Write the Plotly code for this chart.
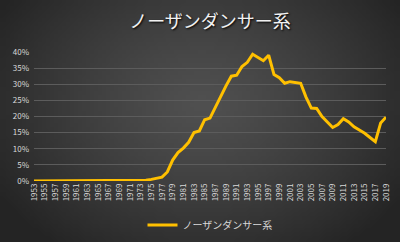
import base64, struct, zlib
import numpy as np
import plotly.graph_objects as go

years = list(range(1953, 2020))
share_pct = [0]*21 + [
    0.2, 0.5, 0.8, 1.2, 2.8, 6.5, 8.8, 10.2, 12.0, 15.0,   # 1974-1983
    15.5, 19.0, 19.5, 23.0, 26.5, 29.5, 32.5, 32.8, 35.5, 36.8,  # 1984-1993
    39.3, 38.3, 37.3, 39.0, 33.0, 32.0, 30.3, 30.8, 30.6, 30.3,  # 1994-2003
    26.0, 22.6, 22.5, 20.0, 18.3, 16.6, 17.5, 19.3, 18.3, 16.8,  # 2004-2013
    15.8, 14.8, 13.5, 12.2, 18.0, 19.8,                          # 2014-2019
]
series_name = "ノーザンダンサー系"
tick_years = list(range(1953, 2020, 2))
y_ticks = [0, 0.05, 0.10, 0.15, 0.20, 0.25, 0.30, 0.35, 0.40]

# radial gradient background as a small PNG
W, H = 100, 60
yy, xx = np.mgrid[0:H, 0:W]
d = np.sqrt(((xx - W*0.5)/(W*0.6))**2 + ((yy - H*0.42)/(H*0.75))**2)
d = np.clip(d, 0, 1)
g = (80 - 44*d**1.3).astype(np.uint8)
raw = b"".join(b"\x00" + bytes(np.stack([row, row, row], axis=1).flatten()) for row in g)
def chunk(t, data):
    c = t + data
    return struct.pack(">I", len(data)) + c + struct.pack(">I", zlib.crc32(c) & 0xffffffff)
png = b"\x89PNG\r\n\x1a\n" + chunk(b"IHDR", struct.pack(">IIBBBBB", W, H, 8, 2, 0, 0, 0)) \
      + chunk(b"IDAT", zlib.compress(raw)) + chunk(b"IEND", b"")
bg_src = "data:image/png;base64," + base64.b64encode(png).decode()

L, R, T, B = 34, 14, 52, 61
FW, FH = 400, 242
pw, ph = FW - L - R, FH - T - B

fig = go.Figure()
fig.add_trace(go.Scatter(
    x=years, y=[v/100 for v in share_pct], mode="lines", name=series_name,
    line=dict(color="#FFC000", width=3, shape="linear"),
))

fig.update_layout(
    width=FW, height=FH,
    margin=dict(l=L, r=R, t=T, b=B, autoexpand=False),
    paper_bgcolor="#333333", plot_bgcolor="rgba(0,0,0,0)",
    font=dict(family="Noto Sans CJK JP", color="#d9d9d9", size=8),
    title=dict(text=series_name, x=0.5, xref="paper", xanchor="center",
               yref="container", y=1 - 22/FH, yanchor="middle",
               font=dict(size=18, color="#f2f2f2", family="Noto Sans CJK JP", shadow="1px 1px 2px #000")),
    showlegend=True,
    legend=dict(orientation="h", x=0.5, xanchor="center", yref="container", y=1 - 225/FH,
                yanchor="middle", font=dict(size=10, color="#d9d9d9"), bgcolor="rgba(0,0,0,0)"),
    images=[dict(source=bg_src, xref="paper", yref="paper", x=-L/pw, y=1 + T/ph,
                 sizex=FW/pw, sizey=FH/ph, sizing="stretch", xanchor="left", yanchor="top",
                 layer="below")],
)
fig.update_xaxes(range=[1953, 2019], tickvals=tick_years, ticktext=[str(t) for t in tick_years],
                 tickangle=-90, showgrid=False, zeroline=False, showline=False, automargin=False,
                 tickfont=dict(size=8, color="#d9d9d9"), ticks="")
fig.update_yaxes(range=[0, 0.4], tickvals=y_ticks, tickformat=".0%", showgrid=True,
                 gridcolor="#5c5c5c", gridwidth=1, zeroline=False, showline=False, automargin=False,
                 tickfont=dict(size=8, color="#d9d9d9"), ticks="", ticklabelstandoff=4)

fig.write_html("out.html")
